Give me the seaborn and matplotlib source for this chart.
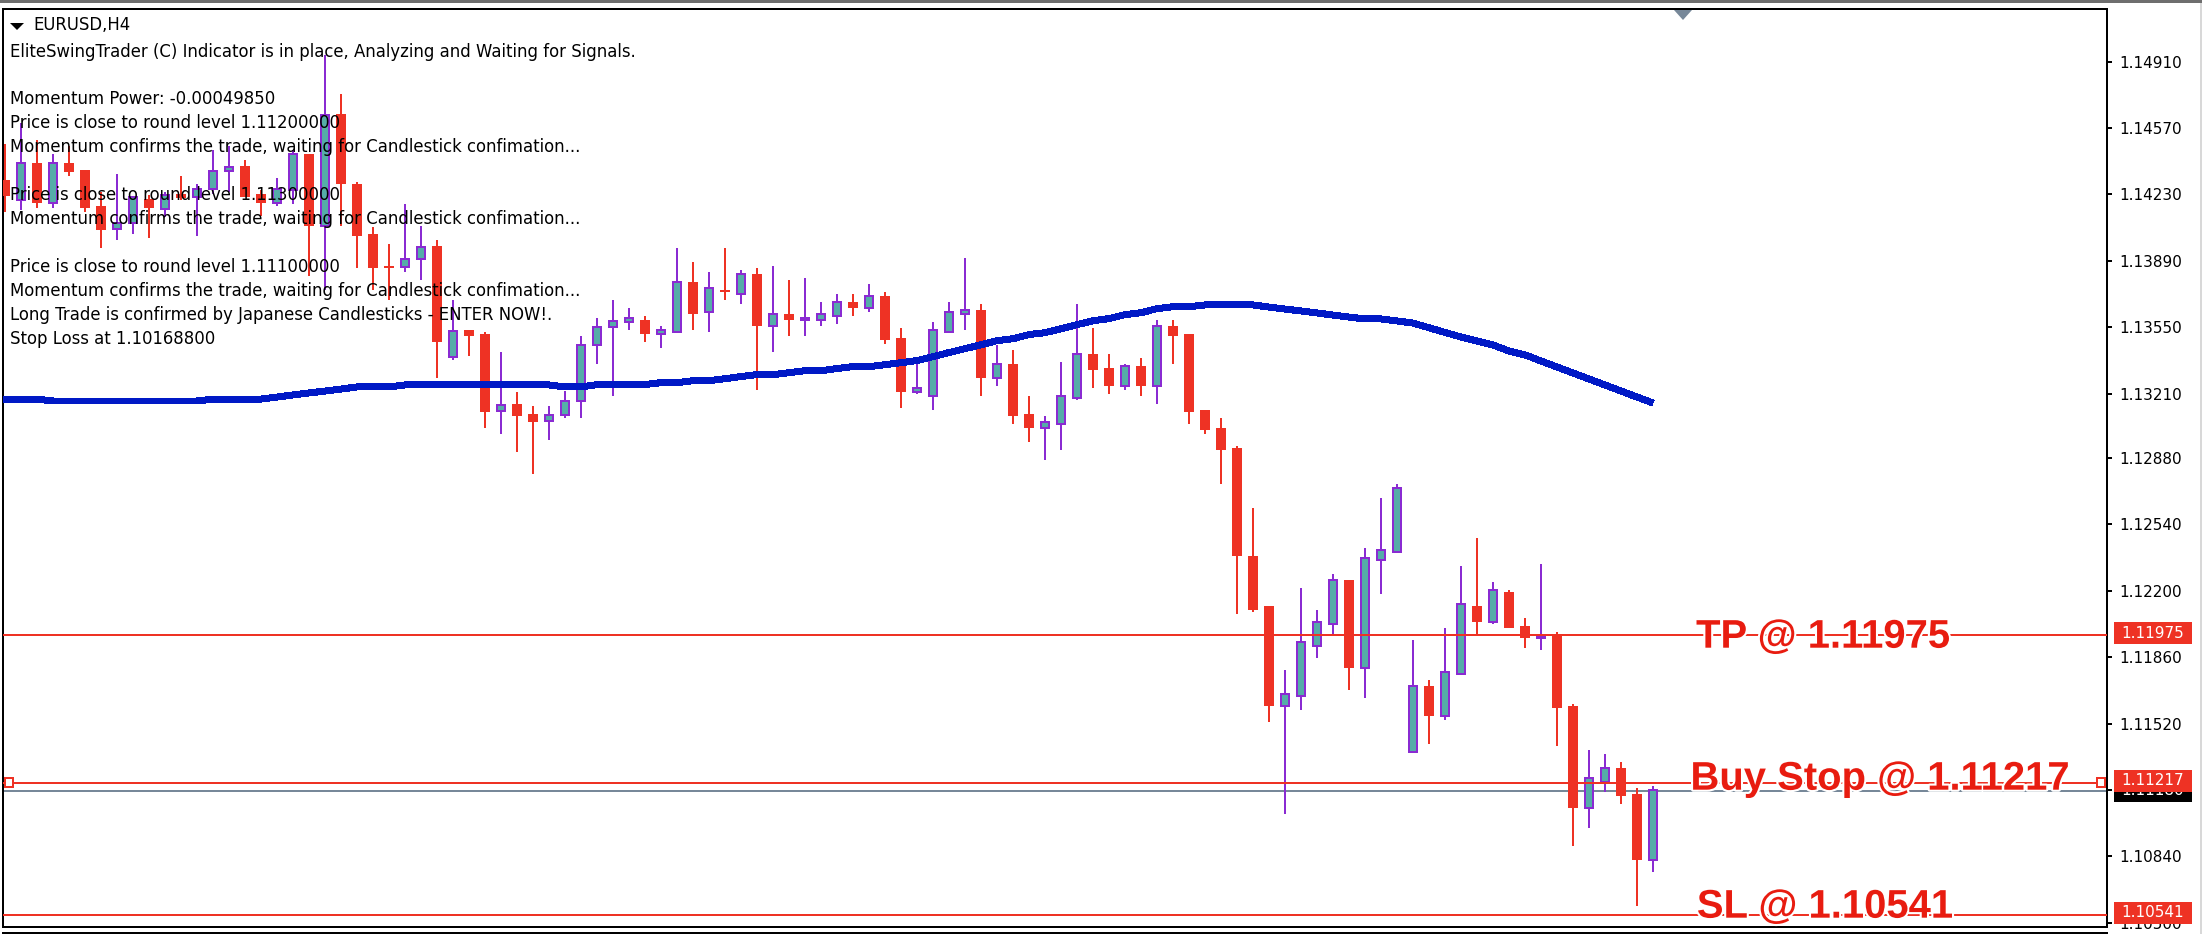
import numpy as np
import matplotlib
matplotlib.use("Agg")
import matplotlib.pyplot as plt
import matplotlib.patheffects as pe
from matplotlib import transforms
from matplotlib.patches import Rectangle, Polygon
import seaborn as sns

symbol = "EURUSD,H4"
status_lines = [
    ("EliteSwingTrader (C) Indicator is in place, Analyzing and Waiting for Signals.", 51.7),
    ("Momentum Power: -0.00049850", 99),
    ("Price is close to round level 1.11200000", 123),
    ("Momentum confirms the trade, waiting for Candlestick confimation...", 147),
    ("Price is close to round level 1.11300000", 195),
    ("Momentum confirms the trade, waiting for Candlestick confimation...", 219),
    ("Price is close to round level 1.11100000", 267),
    ("Momentum confirms the trade, waiting for Candlestick confimation...", 291),
    ("Long Trade is confirmed by Japanese Candlesticks - ENTER NOW!.", 315),
    ("Stop Loss at 1.10168800", 339),
]

bar_index = list(range(-1, 103))
opens = [1.14304,1.14201,1.14393,1.14184,1.14393,1.14355,1.14171,1.14051,1.14085,1.14208,1.14154,1.14232,1.14215,1.14256,1.14348,1.14376,1.14232,1.14184,1.14253,1.14437,1.14068,1.14642,1.14283,1.14027,1.13863,1.13857,1.13898,1.13966,1.13396,1.13536,1.13515,1.13119,1.13157,1.13105,1.13068,1.13099,1.13170,1.13457,1.13549,1.13577,1.13587,1.13515,1.13525,1.13781,1.13628,1.13740,1.13720,1.13822,1.13556,1.13618,1.13587,1.13587,1.13607,1.13679,1.13648,1.13710,1.13495,1.13218,1.13198,1.13525,1.13618,1.13638,1.13290,1.13361,1.13105,1.13034,1.13054,1.13187,1.13413,1.13341,1.13249,1.13351,1.13249,1.13556,1.13515,1.13126,1.13034,1.12931,1.12378,1.12122,1.11610,1.11661,1.11917,1.12030,1.12255,1.11804,1.12358,1.12398,1.11374,1.11712,1.11559,1.11774,1.12122,1.12040,1.12194,1.12019,1.11958,1.11978,1.11610,1.11087,1.11220,1.11292,1.11159,1.10821]
closes = [1.14222,1.14393,1.14184,1.14393,1.14345,1.14160,1.14048,1.14085,1.14215,1.14160,1.14229,1.14212,1.14259,1.14352,1.14372,1.14218,1.14184,1.14259,1.14437,1.14068,1.14637,1.14283,1.14017,1.13853,1.13853,1.13901,1.13962,1.13474,1.13532,1.13505,1.13116,1.13153,1.13095,1.13064,1.13102,1.13174,1.13460,1.13553,1.13583,1.13597,1.13515,1.13536,1.13781,1.13618,1.13751,1.13730,1.13822,1.13556,1.13618,1.13587,1.13597,1.13618,1.13679,1.13648,1.13710,1.13484,1.13218,1.13238,1.13536,1.13628,1.13638,1.13290,1.13361,1.13095,1.13034,1.13064,1.13198,1.13413,1.13331,1.13249,1.13351,1.13249,1.13556,1.13505,1.13116,1.13023,1.12921,1.12378,1.12101,1.11610,1.11671,1.11938,1.12040,1.12255,1.11804,1.12368,1.12409,1.12726,1.11712,1.11559,1.11784,1.12132,1.12040,1.12204,1.12009,1.11958,1.11968,1.11600,1.11087,1.11241,1.11292,1.11149,1.10821,1.11180]
highs = [1.14488,1.14594,1.14509,1.14437,1.14478,1.14355,1.14244,1.14335,1.14218,1.14227,1.14244,1.14324,1.14283,1.14457,1.14478,1.14406,1.14253,1.14314,1.14457,1.14437,1.14944,1.14744,1.14294,1.14065,1.13976,1.14181,1.14068,1.13997,1.13689,1.13536,1.13525,1.13423,1.13218,1.13146,1.13146,1.13225,1.13505,1.13597,1.13689,1.13648,1.13607,1.13556,1.13956,1.13884,1.13833,1.13956,1.13843,1.13853,1.13863,1.13792,1.13802,1.13679,1.13720,1.13720,1.13771,1.13730,1.13546,1.13373,1.13577,1.13679,1.13904,1.13669,1.13459,1.13433,1.13198,1.13095,1.13372,1.13669,1.13546,1.13413,1.13361,1.13392,1.13587,1.13587,1.13515,1.13126,1.13085,1.12941,1.12624,1.12122,1.11794,1.12214,1.12101,1.12286,1.12255,1.12419,1.12675,1.12747,1.11948,1.11743,1.12009,1.12327,1.12470,1.12245,1.12204,1.12060,1.12337,1.11989,1.11620,1.11384,1.11364,1.11323,1.11190,1.11200]
lows = [1.14142,1.14150,1.14160,1.14160,1.14324,1.14140,1.13956,1.13997,1.14027,1.14007,1.14116,1.14201,1.14017,1.14232,1.14242,1.14218,1.14119,1.14171,1.14181,1.13812,1.13740,1.14068,1.13853,1.13740,1.13689,1.13833,1.13792,1.13290,1.13382,1.13402,1.13034,1.13003,1.12911,1.12798,1.12972,1.13085,1.13085,1.13361,1.13198,1.13536,1.13474,1.13443,1.13525,1.13536,1.13525,1.13689,1.13669,1.13228,1.13423,1.13505,1.13505,1.13556,1.13566,1.13607,1.13628,1.13464,1.13136,1.13208,1.13126,1.13525,1.13536,1.13198,1.13249,1.13054,1.12962,1.12870,1.12921,1.13177,1.13238,1.13208,1.13228,1.13198,1.13157,1.13361,1.13054,1.13003,1.12747,1.12081,1.12091,1.11528,1.11057,1.11589,1.11856,1.11978,1.11692,1.11651,1.12183,1.12398,1.11374,1.11415,1.11538,1.11774,1.11978,1.12030,1.12009,1.11907,1.11897,1.11405,1.10893,1.10985,1.11169,1.11108,1.10586,1.10760]

ma_index = list(range(-2, 103))
ma_values = [1.13182,1.13182,1.13182,1.13182,1.13172,1.13172,1.13172,1.13172,1.13172,1.13172,1.13172,1.13172,1.13172,1.13172,1.13182,1.13182,1.13182,1.13182,1.13192,1.13203,1.13213,1.13223,1.13233,1.13244,1.13244,1.13244,1.13254,1.13254,1.13254,1.13254,1.13254,1.13254,1.13254,1.13254,1.13254,1.13254,1.13244,1.13244,1.13256,1.13256,1.13256,1.13256,1.13266,1.13266,1.13276,1.13276,1.13286,1.13297,1.13307,1.13307,1.13317,1.13327,1.13327,1.13338,1.13348,1.13348,1.13358,1.13368,1.13379,1.13399,1.13420,1.13440,1.13460,1.13481,1.13491,1.13512,1.13522,1.13542,1.13563,1.13583,1.13594,1.13614,1.13624,1.13645,1.13655,1.13655,1.13664,1.13664,1.13664,1.13664,1.13653,1.13643,1.13633,1.13623,1.13612,1.13602,1.13592,1.13592,1.13582,1.13571,1.13547,1.13523,1.13500,1.13479,1.13459,1.13428,1.13408,1.13377,1.13346,1.13315,1.13285,1.13254,1.13223,1.13192,1.13162]

tick_prices = [1.14910,1.14570,1.14230,1.13890,1.13550,1.13210,1.12880,1.12540,1.12200,1.11860,1.11520,1.11180,1.10840,1.10500]
tick_labels = ["1.14910","1.14570","1.14230","1.13890","1.13550","1.13210","1.12880","1.12540","1.12200","1.11860","1.11520","1.11180","1.10840","1.10500"]

tp_price, buy_price, sl_price = 1.11975, 1.11217, 1.10541
bid_price = 1.11175
bid_label = "1.11180"
order_labels = ["TP @ 1.11975", "Buy Stop @ 1.11217", "SL @ 1.10541"]

RED = "#ee3224"
LABEL_RED = "#e81c10"
PURPLE = "#8a2bd2"
TEAL = "#55ada8"
BLUE = "#0019c6"
GRAY = "#778899"
FONT = ["DejaVu Sans"]

sns.set_theme(style="white")
plt.rcParams["font.family"] = FONT
W, H = 2202, 934
fig = plt.figure(figsize=(W / 100, H / 100), dpi=100, facecolor="white")
ax = fig.add_axes([3 / W, 1 - 927 / H, (2107 - 3) / W, (927 - 9) / H])
px = transforms.Affine2D().scale(1 / W, -1 / H).translate(0, 1) + fig.transFigure

ax.set_xlim(-1.125, 130.375)
ax.set_ylim(1.11975 - (927 - 634.7) / 19525, 1.11975 + (634.7 - 9) / 19525)
ax.set_facecolor("white")

o, h, l, c = map(np.array, (opens, highs, lows, closes))
x = np.array(bar_index)
up = c >= o
P2 = 1.44

ax.vlines(x[up], l[up], h[up], color=PURPLE, lw=P2, zorder=2, antialiased=False)
ax.vlines(x[~up], l[~up], h[~up], color=RED, lw=P2, zorder=2, antialiased=False)
ax.bar(x[~up], (o - c)[~up], bottom=c[~up], width=0.62, color=RED, lw=0, zorder=3)
ax.bar(x[up], (c - o)[up], bottom=o[up], width=0.5, color=TEAL, edgecolor=PURPLE, lw=P2, zorder=3)

ax.axhline(bid_price, color=GRAY, lw=P2, zorder=1.5)
sns.lineplot(x=ma_index, y=ma_values, ax=ax, color=BLUE, linewidth=4.3, zorder=4, antialiased=False,
             solid_capstyle="butt", errorbar=None, estimator=None, sort=False)
ax.set_xlabel("")
ax.set_ylabel("")
for p in (tp_price, sl_price):
    ax.axhline(p, color=RED, lw=P2, zorder=5)
ax.plot([-1.125, 129.75], [buy_price, buy_price], color=RED, lw=P2, zorder=5, solid_capstyle="butt")

# text block over the candles
TXT = 11.9
for txt, yy in status_lines:
    ax.text(10.5, yy, txt, transform=px, fontsize=TXT, color="black", va="center", ha="left", zorder=8)
ax.text(33, 25, symbol, transform=px, fontsize=TXT, color="black", va="center", ha="left", zorder=8)
ax.add_patch(Polygon([(10, 23), (24, 23), (17, 30)], closed=True, transform=px, color="black", lw=0, zorder=8, clip_on=False))

# order labels
stroke = [pe.withStroke(linewidth=3, foreground="white")]
tr_y = transforms.blended_transform_factory(px, ax.transData)
for txt, xx, p, dy in zip(order_labels, (1823, 1880, 1825), (tp_price, buy_price, sl_price), (2, -4, -8)):
    ax.text(xx, p + (-dy) / 19525, txt, transform=tr_y, fontsize=28.8, fontweight="bold", family=["Liberation Sans"],
            color=LABEL_RED, ha="center", va="center", zorder=9, path_effects=stroke)

# small markers on the pending-order line
half = 4.2 / 19525
for left in (5, 2097):
    ax.add_patch(Rectangle((left, buy_price - half), 8, 2 * half, transform=tr_y, fc="white", ec=RED, lw=P2,
                           zorder=6, clip_on=False))
ax.add_patch(Polygon([(1674, 10), (1692, 10), (1683, 20)], closed=True, transform=px, color=GRAY, lw=0, zorder=6))

# right price scale
ax.yaxis.tick_right()
ax.set_yticks(tick_prices)
ax.set_yticklabels(tick_labels, fontsize=11, color="black")
ax.tick_params(axis="y", right=True, length=3.6, width=P2, color="black", pad=5, direction="out")
ax.set_xticks([])
for s in ax.spines.values():
    s.set_visible(True)
    s.set_color("black")
    s.set_linewidth(P2)

# price tags over the scale
half_tag = 11 / 19525
lift = 1.7 / 19525
for p, txt, col in ((bid_price, bid_label, "black"), (tp_price, "1.11975", RED), (buy_price, "1.11217", RED), (sl_price, "1.10541", RED)):
    top = col != "black"
    mid = p + lift if top else p
    ax.add_patch(Rectangle((2114, mid - half_tag), 78, 2 * half_tag, transform=tr_y, fc=col, ec="none", zorder=10 if top else 9.5, clip_on=False))
    ax.text(2121, mid, txt, transform=tr_y, fontsize=11, color="white", ha="left", va="center", zorder=10.5 if top else 9.6, clip_on=False)

# window chrome
fig.add_artist(Rectangle((0, 0), W, 3, transform=px, fc="#6e6e6e", ec="none"))
fig.add_artist(Rectangle((2, 932), 2106, 2, transform=px, fc="black", ec="none"))
fig.add_artist(Rectangle((2200, 3), 1.5, 931, transform=px, fc="#d8d8d8", ec="none"))

fig.savefig("out.png", dpi=100, facecolor="white")
